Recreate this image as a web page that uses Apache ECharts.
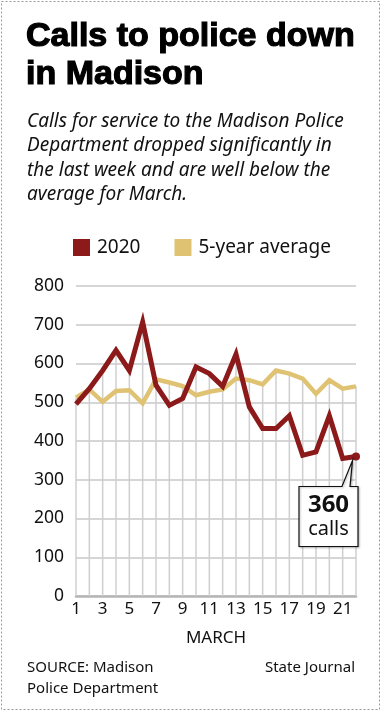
<!DOCTYPE html>
<html><head><meta charset="utf-8">
<script src="https://cdn.jsdelivr.net/npm/echarts@6/dist/echarts.min.js"></script>
<style>html,body{margin:0;padding:0;background:#fff}#c{width:382px;height:711px}</style>
</head><body><div id="c"></div>
<script>
const days = ['1','2','3','4','5','6','7','8','9','10','11','12','13','14','15','16','17','18','19','20','21','22'];
const calls2020 = [495,535,582,634,582,707,544,492,510,591,574,541,624,488,432,432,465,363,372,465,355,360];
const avg5yr = [512,533,501,529,531,497,559,551,542,518,527,533,561,557,546,582,574,561,522,557,535,541];
const yTicks = [0,100,200,300,400,500,600,700,800];
const RED = '#8c1a1a', GOLD = '#dfc272';
const bodyFont = '"Noto Sans"';
const dropTops = calls2020.map((v,i)=>Math.max(v, avg5yr[i]));

const chart = echarts.init(document.getElementById('c'), null, {renderer:'canvas'});
chart.setOption({
  animation:false,
  backgroundColor:'#fff',
  title:[
    {text:'Calls to police down\nin Madison', left:21, top:13,
     textStyle:{fontFamily:'"Liberation Sans"', fontWeight:900, fontSize:34, lineHeight:38, color:'#000',
       textBorderColor:'#000', textBorderWidth:1.2}},
    {text:'Calls for service to the Madison Police\nDepartment dropped significantly in\nthe last week and are well below the\naverage for March.', left:22, top:104,
     textStyle:{fontFamily:bodyFont, fontStyle:'italic', fontWeight:'normal', fontSize:19, lineHeight:24.5, color:'#111'}},
    {text:'SOURCE: Madison\nPolice Department', left:22, top:652,
     textStyle:{fontFamily:bodyFont, fontWeight:'normal', fontSize:15, lineHeight:21, color:'#111'}},
    {text:'State Journal', right:22, top:652,
     textStyle:{fontFamily:bodyFont, fontWeight:'normal', fontSize:15, lineHeight:21, color:'#111'}}
  ],
  legend:{left:68, top:233, itemWidth:17, itemHeight:17, itemGap:34, icon:'rect',
    textStyle:{fontFamily:bodyFont, fontSize:19, color:'#111', padding:[0,0,0,2]},
    data:['2020','5-year average']},
  grid:{left:76, right:26, top:286, bottom:115},
  xAxis:{type:'category', data:days, boundaryGap:false,
    name:'MARCH', nameLocation:'middle', nameGap:34,
    nameTextStyle:{fontFamily:bodyFont, fontSize:17, color:'#111'},
    axisLine:{lineStyle:{color:'#b5b5b5', width:2.5}},
    axisTick:{show:false},
    axisLabel:{interval:1, fontFamily:bodyFont, fontSize:17, color:'#111', margin:5},
    splitLine:{show:false}},
  yAxis:{type:'value', min:0, max:800, interval:100,
    axisLine:{show:false}, axisTick:{show:false},
    axisLabel:{fontFamily:bodyFont, fontSize:17.5, color:'#111', margin:12,
      formatter:v=>yTicks.includes(v)?String(v):''},
    splitLine:{lineStyle:{color:'#c8c8c8', width:1.5}}},
  series:[
    {name:'drop', type:'bar', data:dropTops, barWidth:1.5, z:1, silent:true,
     itemStyle:{color:'#cfcfcf'}, legendHoverLink:false},
    {name:'5-year average', type:'line', data:avg5yr, symbol:'none', z:2,
     itemStyle:{color:GOLD}, lineStyle:{color:GOLD, width:4.5, join:'miter'}},
    {name:'2020', type:'line', data:calls2020.map((v,i)=>i===calls2020.length-1?
        {value:v, symbol:'circle', symbolSize:8}:v),
     symbol:'none', showSymbol:true, z:3,
     itemStyle:{color:RED}, lineStyle:{color:RED, width:5, join:'miter'}}
  ]
});

const last = calls2020.length-1;
const p = chart.convertToPixel({seriesIndex:2}, [last, calls2020[last]]);
const L = p[0]-57, R = p[0]+2, T = p[1]+30, B = p[1]+90;
chart.setOption({graphic:[
  {type:'polygon', z:100, shape:{points:[[L,T],[p[0]-14,T],[p[0]-3.5,p[1]+4],[p[0]-6,T],[R,T],[R,B],[L,B]]},
   style:{fill:'#fff', stroke:'#111', lineWidth:1.2, shadowColor:'rgba(0,0,0,0.25)', shadowBlur:2, shadowOffsetX:1, shadowOffsetY:1}},
  {type:'text', z:101, x:(L+R)/2, y:T+31, style:{text:String(calls2020[last]), fontFamily:bodyFont, fontWeight:'bold', fontSize:24, fill:'#111', align:'center', verticalAlign:'bottom'}},
  {type:'text', z:101, x:(L+R)/2, y:T+53, style:{text:'calls', fontFamily:bodyFont, fontSize:20, fill:'#111', align:'center', verticalAlign:'bottom'}},
  {type:'rect', z:0, shape:{x:1.5, y:1.5, width:378, height:708}, style:{fill:'none', stroke:'#999', lineWidth:1, lineDash:[2,2]}}
]});
</script></body></html>
